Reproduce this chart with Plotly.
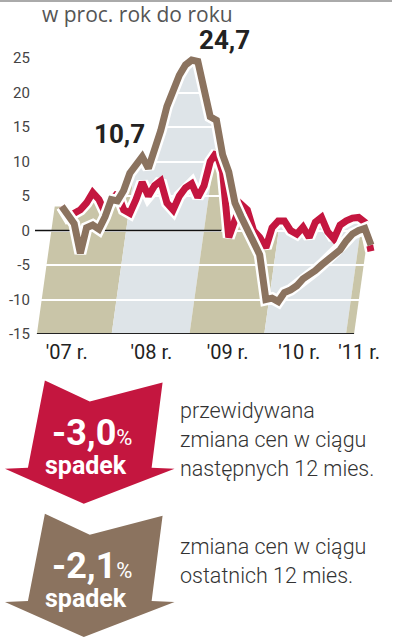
import plotly.graph_objects as go

W, H = 393, 640          # design grid (reference pixels)
FIG_H = 650              # rendered figure height (compensates observed vertical squeeze)

# ---------------- data (monthly, Jan 2007 .. Mar 2011) ----------------
month_idx = list(range(51))
brown_vals = [3.5, 2.3, 1.0, -3.3, 0.4, 0.8, 0.2, 2.0, 4.5, 4.3,
              5.8, 8.3, 9.5, 10.7, 9.0, 11.5, 14.5, 18.0, 20.5, 22.5,
              24.0, 24.7, 24.5, 20.0, 16.5, 16.0, 11.0, 8.5, 4.0, 2.0,
              0.0, -1.5, -3.5, -10.0, -9.8, -10.3, -9.0, -8.6, -8.0, -7.0,
              -6.5, -5.8, -5.0, -4.2, -3.5, -2.8, -1.5, -0.5, 0.0, 0.3, -2.1]
red_vals = [3.5, 2.0, 2.5, 3.0, 4.0, 5.5, 4.5, 2.6, 4.3, 5.4,
            3.0, 2.5, 4.5, 7.0, 5.0, 6.5, 7.2, 4.0, 3.0, 5.0,
            6.2, 6.8, 4.8, 6.5, 10.0, 11.3, 8.5, -1.0, 1.5, 3.8,
            3.0, 0.0, -1.0, -2.5, 0.4, 1.4, 1.4, 0.0, -0.5, 0.5,
            -1.0, 1.2, 1.9, -0.2, -1.2, 0.8, 1.4, 1.8, 1.9, 1.2, -3.0]

y_ticks = [-15, -10, -5, 0, 5, 10, 15, 20, 25]
y_ticktext = ["-15", "-10", "-5", "0", "5", "10", "15", "20", "25"]
x_tickvals = [0.8, 14.5, 26.8, 38.4, 48.1]
x_ticktext = ["'07 r.", "'08 r.", "'09 r.", "'10 r.", "'11 r."]

peak_labels = [(13, "10,7", -23, 23), (21, "24,7", 33, 20)]

forecast_text = "-3,0"
last12_text = "-2,1"

RED = "#c4163f"
BROWN = "#8b735f"
TAN = "#c9c5a8"
LIGHT = "#dee4e8"

# ---------------- background bands (skewed fill under the lines) ----------------
s = 0.156
env = [max(a, b) for a, b in zip(brown_vals, red_vals)]
u_left, u_right = -4.03, 47.26
poly = [(u_left, -15.0), (u_left, env[0])]
poly += [(i - s * (e + 15), e) for i, e in zip(month_idx, env)]
poly += [(month_idx[-1] - s * (env[-1] + 15), -15.0)]

def clip_half(pts, inside, inter):
    out = []
    n = len(pts)
    for k in range(n):
        cur, prev = pts[k], pts[k - 1]
        if inside(cur):
            if not inside(prev):
                out.append(inter(prev, cur))
            out.append(cur)
        elif inside(prev):
            out.append(inter(prev, cur))
    return out

def inter_at(uc):
    def f(p, q):
        t = (uc - p[0]) / (q[0] - p[0])
        return (uc, p[1] + t * (q[1] - p[1]))
    return f

def strip(a, b):
    pts = clip_half(poly, lambda p: p[0] >= a - 1e-9, inter_at(a))
    pts = clip_half(pts, lambda p: p[0] <= b + 1e-9, inter_at(b))
    return pts

bounds = [u_left, 8.06, 20.65, 32.74, 45.97, u_right]
shapes = []
for k in range(len(bounds) - 1):
    pts = strip(bounds[k], bounds[k + 1])
    if len(pts) < 3:
        continue
    path = "M " + " L ".join(f"{u + s * (y + 15):.4f},{y:.4f}" for u, y in pts) + " Z"
    shapes.append(dict(type="path", xref="x", yref="y", path=path,
                       fillcolor=TAN if k % 2 == 0 else LIGHT,
                       line=dict(width=0), layer="below"))

# zero line (partial) and bottom axis line
shapes.append(dict(type="line", xref="x", yref="y", x0=-4.6, x1=25.8, y0=0, y1=0,
                   line=dict(color="#111", width=1.5), layer="between"))
shapes.append(dict(type="line", xref="x", yref="y", x0=u_left, x1=u_right, y0=-15, y1=-15,
                   line=dict(color="#222", width=2), layer="above"))

# top rule
shapes.append(dict(type="line", xref="paper", yref="paper", x0=0, x1=1,
                   y0=1 - 1 / H, y1=1 - 1 / H, line=dict(color="#aaa", width=2)))

def P(px, py):
    return f"{px / W:.5f},{1 - py / H:.5f}"

def arrow(top, color):
    pts = [(45, 0), (90, 21), (163, 2), (152, 87), (175, 88), (84, 123),
           (5, 88), (28, 87)]
    path = "M " + " L ".join(P(x, y + top) for x, y in pts) + " Z"
    return dict(type="path", xref="paper", yref="paper", path=path,
                fillcolor=color, line=dict(width=0), layer="above")

shapes.append(arrow(380, RED))
shapes.append(arrow(513, BROWN))

fig = go.Figure()

fig.add_trace(go.Scatter(x=month_idx, y=red_vals, mode="lines",
                         line=dict(color="white", width=12), hoverinfo="skip"))
fig.add_trace(go.Scatter(x=month_idx, y=red_vals, mode="lines",
                         line=dict(color=RED, width=7)))
fig.add_trace(go.Scatter(x=month_idx, y=brown_vals, mode="lines",
                         line=dict(color="white", width=12), hoverinfo="skip"))
fig.add_trace(go.Scatter(x=month_idx, y=brown_vals, mode="lines",
                         line=dict(color=BROWN, width=7)))

annotations = []
for idx, txt, dx, dy in peak_labels:
    annotations.append(dict(x=idx, y=brown_vals[idx], xref="x", yref="y", text=txt,
                            showarrow=False, xshift=dx, yshift=dy,
                            font=dict(family="Roboto", size=26, color="#222", weight="bold")))

annotations.append(dict(x=40 / W, y=1 - 14 / H, xref="paper", yref="paper",
                        text="w proc. rok do roku", showarrow=False,
                        xanchor="left", yanchor="middle",
                        font=dict(family="Open Sans", size=21, color="#555")))

def arrow_text(top, big):
    return [
        dict(x=92 / W, y=1 - (top + 52) / H, xref="paper", yref="paper",
             text=f"<b>{big}</b><span style='font-size:22px;font-weight:400'>%</span>",
             showarrow=False, xanchor="center", yanchor="middle",
             font=dict(family="Roboto", size=36, color="white")),
        dict(x=86 / W, y=1 - (top + 85) / H, xref="paper", yref="paper",
             text="<b>spadek</b>", showarrow=False, xanchor="center", yanchor="middle",
             font=dict(family="Roboto", size=25, color="white")),
    ]

annotations += arrow_text(380, forecast_text)
annotations += arrow_text(513, last12_text)

desc_font = dict(family="Roboto", size=21.5, color="#333", weight=300)
for text, cy in [("przewidywana", 410), ("zmiana cen w ciągu", 439),
                 ("następnych 12 mies.", 468), ("zmiana cen w ciągu", 546),
                 ("ostatnich 12 mies.", 575)]:
    annotations.append(dict(x=178 / W, y=1 - cy / H, xref="paper", yref="paper",
                            text=text, showarrow=False, xanchor="left", yanchor="middle",
                            font=desc_font))

fig.update_layout(
    width=W, height=FIG_H,
    margin=dict(l=0, r=0, t=0, b=0),
    paper_bgcolor="white", plot_bgcolor="white",
    showlegend=False,
    shapes=shapes,
    annotations=annotations,
    xaxis=dict(domain=[35 / W, 380 / W], range=[-4.35, 51.3], showgrid=False,
               zeroline=False, showline=False, tickmode="array",
               tickvals=x_tickvals, ticktext=x_ticktext, ticks="", ticklabelstandoff=4,
               tickfont=dict(family="Roboto", size=20, color="#222"), fixedrange=True),
    yaxis=dict(domain=[(H - 333.5) / H, (H - 30) / H], range=[-15, 29.06],
               showgrid=True, gridcolor="white", gridwidth=1.5,
               zeroline=False, showline=False, tickmode="array",
               tickvals=y_ticks, ticktext=y_ticktext, ticks="", ticklabelstandoff=4,
               tickfont=dict(family="Roboto", size=15, color="#444"), fixedrange=True),
)

fig.write_html("out.html", config={"displayModeBar": False},
               post_script="document.body.style.margin='0';document.body.style.overflow='hidden';")
